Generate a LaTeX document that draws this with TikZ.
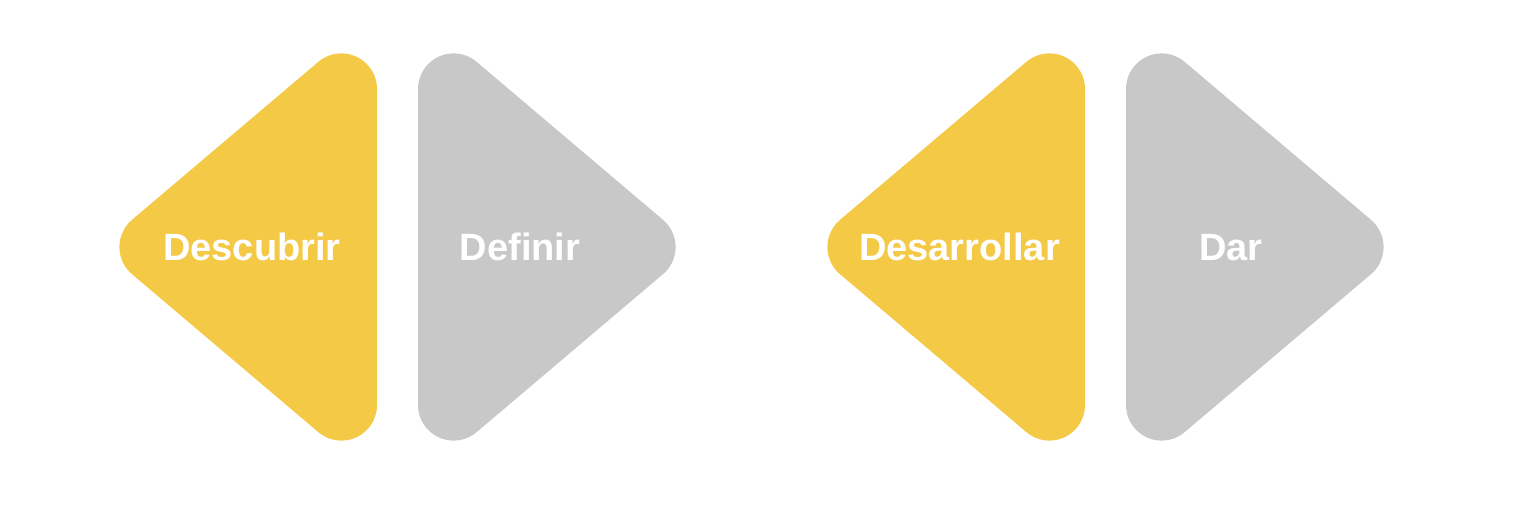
\documentclass[tikz,border=0pt]{standalone}
\usepackage{fontspec}
\setmainfont{Liberation Sans}
\definecolor{yel}{HTML}{F4C945}
\definecolor{gry}{HTML}{C8C8C8}
\tikzset{
  tri/.pic={
    \fill[pic actions] (0,158) arc[start angle=0,end angle=130.4,radius=35.6]
      -- (-245.07,27.11) arc[start angle=130.4,end angle=229.6,radius=35.6]
      -- (-58.67,-185.11) arc[start angle=229.6,end angle=360,radius=35.6]
      -- cycle;
  },
  lbl/.style={text=white, font=\bfseries\fontsize{38}{40}\selectfont, anchor=base, inner sep=0pt}
}
\begin{document}
\begin{tikzpicture}[x=1pt,y=1pt]
  \useasboundingbox (0,0) rectangle (1520,532);
  \pic[fill=yel] at (377,285) {tri};
  \pic[fill=gry, xscale=-1] at (418,285) {tri};
  \pic[fill=yel] at (1085,285) {tri};
  \pic[fill=gry, xscale=-1] at (1126,285) {tri};
  \node[lbl] (d1) at (252,271) {Descubrir};
  \node[lbl] (d2) at (520,271) {Definir};
  \node[lbl] (d3) at (959.5,271) {Desarrollar};
  \node[lbl] (d4) at (1231,271) {Dar};
\end{tikzpicture}
\end{document}
